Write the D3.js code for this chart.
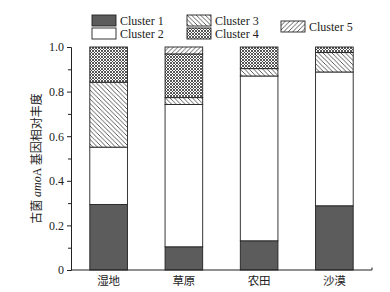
<!DOCTYPE html>
<html>
<head>
	<meta charset="utf-8">
	<title>古菌 amoA 基因相对丰度</title>
	<script src="https://d3js.org/d3.v7.min.js"></script>
	<style>
		body { margin: 0; background: #fff; }
	</style>
</head>
<body>
	<div class="chart"></div>

	<script type="text/javascript">
		var categories = ['湿地', '草原', '农田', '沙漠']
		var clusters = ['Cluster 1', 'Cluster 2', 'Cluster 3', 'Cluster 4', 'Cluster 5']
		var cluster1 = [0.294, 0.104, 0.131, 0.288]
		var cluster2 = [0.257, 0.638, 0.739, 0.600]
		var cluster3 = [0.291, 0.031, 0.033, 0.087]
		var cluster4 = [0.158, 0.196, 0.097, 0.025]
		var cluster5 = [0, 0.031, 0, 0]
		var yTicks = [0, 0.2, 0.4, 0.6, 0.8, 1.0]
		var yMinorTicks = [0.1, 0.3, 0.5, 0.7, 0.9]

		var seriesVals = [cluster1, cluster2, cluster3, cluster4, cluster5]
		var rows = categories.map((c, i) => {
			var r = { cat: c }
			clusters.forEach((k, j) => { r[k] = seriesVals[j][i] })
			return r
		})

		var width = 390
		var height = 292
		var fontSerif = '"Liberation Serif", "DejaVu Serif", serif'

		var svg = d3
			.select('.chart')
			.append('svg')
			.attr('width', width)
			.attr('height', height)

		// 填充图案
		var defs = svg.append('defs')
		function hatch(id, dir, gap) {
			var p = defs.append('pattern')
				.attr('id', id)
				.attr('patternUnits', 'userSpaceOnUse')
				.attr('width', gap)
				.attr('height', gap)
			p.append('rect').attr('width', gap).attr('height', gap).attr('fill', '#fff')
			var d = dir > 0
				? `M0,${gap} L${gap},0 M${-gap / 2},${gap / 2} L${gap / 2},${-gap / 2} M${gap / 2},${gap * 1.5} L${gap * 1.5},${gap / 2}`
				: `M0,0 L${gap},${gap} M${-gap / 2},${gap / 2} L${gap / 2},${gap * 1.5} M${gap / 2},${-gap / 2} L${gap * 1.5},${gap / 2}`
			p.append('path').attr('d', d).attr('stroke', '#333').attr('stroke-width', 0.8)
		}
		hatch('c3', -1, 4.5)
		hatch('c5', 1, 4.5)
		var cross = defs.append('pattern')
			.attr('id', 'c4')
			.attr('patternUnits', 'userSpaceOnUse')
			.attr('width', 3)
			.attr('height', 3)
		cross.append('rect').attr('width', 3).attr('height', 3).attr('fill', '#fff')
		cross.append('path')
			.attr('d', 'M0,0 L3,3 M0,3 L3,0')
			.attr('stroke', '#444')
			.attr('stroke-width', 0.9)

		var fills = ['#5c5c5c', '#ffffff', 'url(#c3)', 'url(#c4)', 'url(#c5)']

		// 比例尺
		var xScale = d3.scaleBand().domain(categories).range([71, 372]).paddingInner(0.5).paddingOuter(0.25)
		var yScale = d3.scaleLinear().domain([0, 1]).range([270, 47])

		// 堆叠
		var stacked = d3.stack().keys(clusters)(rows)

		svg.append('g')
			.selectAll('g')
			.data(stacked)
			.enter()
			.append('g')
			.attr('fill', (d, i) => fills[i])
			.selectAll('rect')
			.data((d) => d)
			.enter()
			.append('rect')
			.attr('x', (d) => xScale(d.data.cat))
			.attr('width', xScale.bandwidth())
			.attr('y', (d) => yScale(d[1]))
			.attr('height', (d) => yScale(d[0]) - yScale(d[1]))
			.attr('stroke', '#222')
			.attr('stroke-width', 0.9)
			.filter((d) => d[1] - d[0] <= 0)
			.remove()

		// y 轴
		var yAxis = d3.axisLeft(yScale)
			.tickValues(yTicks)
			.tickSize(4)
			.tickPadding(3)
			.tickFormat((d) => d === 0 ? '0' : d3.format('.1f')(d))
		var gy = svg.append('g').attr('transform', 'translate(71,0)').call(yAxis)
		gy.selectAll('.tick')
			.data(yMinorTicks, function (d) { return d })
		svg.append('g')
			.attr('transform', 'translate(71,0)')
			.call(d3.axisLeft(yScale).tickValues(yMinorTicks).tickSize(3).tickFormat(''))
			.select('.domain').remove()

		// x 轴
		var xAxis = d3.axisBottom(xScale).tickSize(0).tickPadding(7)
		var gx = svg.append('g').attr('transform', 'translate(0,270)').call(xAxis)
		gx.select('.domain').attr('d', 'M71,0H372V-2.5')

		svg.selectAll('.domain').attr('stroke', '#222')
		svg.selectAll('.tick line').attr('stroke', '#222')
		gy.selectAll('text')
			.style('font-family', fontSerif)
			.style('font-size', '12px')
			.attr('fill', '#222')
		gx.selectAll('text')
			.style('font-family', '"Noto Sans CJK SC", sans-serif')
			.style('font-size', '11.5px')
			.attr('fill', '#222')

		// y 轴标题
		var title = svg.append('text')
			.attr('transform', 'translate(41,158.5) rotate(-90)')
			.attr('text-anchor', 'middle')
			.style('font-size', '12px')
			.attr('fill', '#222')
		title.append('tspan').style('font-family', '"Noto Sans CJK SC", sans-serif').text('古菌 ')
		title.append('tspan').style('font-family', fontSerif).style('font-style', 'italic').text('amo')
		title.append('tspan').style('font-family', fontSerif).text('A ')
		title.append('tspan').style('font-family', '"Noto Sans CJK SC", sans-serif').text('基因相对丰度')

		// 图例
		var legendPos = [
			{ x: 92, y: 15 },
			{ x: 92, y: 28 },
			{ x: 187, y: 15 },
			{ x: 187, y: 28 },
			{ x: 281, y: 21 }
		]
		var legend = svg.append('g')
			.selectAll('g')
			.data(clusters)
			.enter()
			.append('g')
			.attr('transform', (d, i) => `translate(${legendPos[i].x},${legendPos[i].y})`)
		legend.append('rect')
			.attr('width', 24)
			.attr('height', 11)
			.attr('fill', (d, i) => fills[i])
			.attr('stroke', '#222')
			.attr('stroke-width', 0.9)
		legend.append('text')
			.attr('x', 28)
			.attr('y', 5.5)
			.attr('dy', '0.35em')
			.style('font-family', fontSerif)
			.style('font-size', '12px')
			.attr('fill', '#222')
			.text((d) => d)
	</script>
</body>
</html>
